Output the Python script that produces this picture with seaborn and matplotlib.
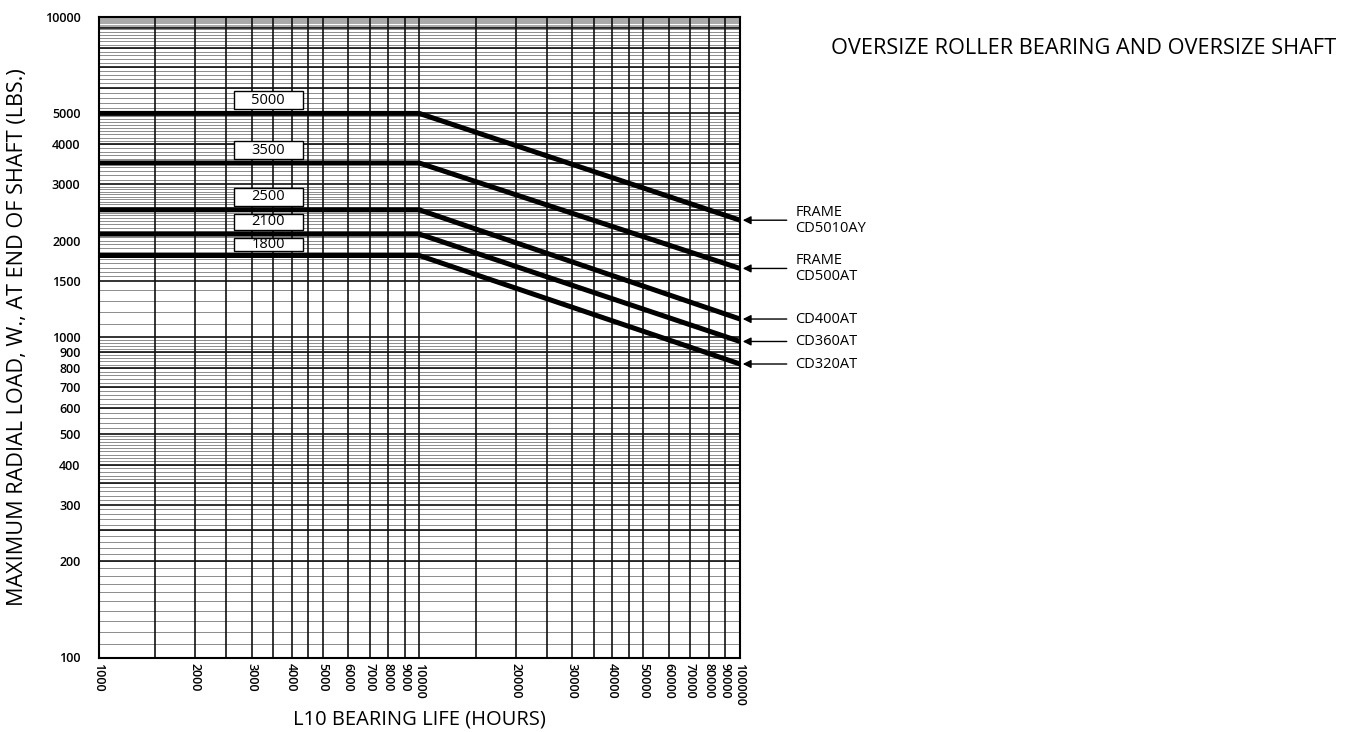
import numpy as np
import pandas as pd
import matplotlib
matplotlib.use("Agg")
import matplotlib.pyplot as plt
from matplotlib.patches import Rectangle
import seaborn as sns

# ---- bearing load curves -------------------------------------------------
frames = ["FRAME\nCD5010AY", "FRAME\nCD500AT", "CD400AT", "CD360AT", "CD320AT"]
load_flat = [5000, 3500, 2500, 2100, 1800]     # lbs, held constant up to the knee
load_end = [2320, 1640, 1140, 970, 825]        # lbs at 100000 h
hours_start = 1000
hours_knee = 10000
hours_end = 100000

# ---- axis ticks ------------------------------------------------------------
x_ticks = [1000, 2000, 3000, 4000, 5000, 6000, 7000, 8000, 9000, 10000,
           20000, 30000, 40000, 50000, 60000, 70000, 80000, 90000, 100000]
y_ticks = [100, 200, 300, 400, 500, 600, 700, 800, 900, 1000,
           1500, 2000, 3000, 4000, 5000, 10000]

# ---- chart-paper rulings ---------------------------------------------------
x_rulings = [1000, 1500, 2000, 2500, 3000, 3500, 4000, 4500, 5000, 6000, 7000,
             8000, 9000, 10000, 15000, 20000, 25000, 30000, 35000, 40000, 45000,
             50000, 60000, 70000, 80000, 90000]
y_rulings = [200, 250, 300, 350, 400, 500, 600, 700, 800, 900, 1000, 1500,
             1800, 2100, 2500, 3000, 3500, 4000, 5000, 6000, 7000, 8000, 9250]
# fine rulings: (start, stop, step)
y_fine_bands = [(100, 300, 10), (300, 500, 10), (500, 1000, 20),
                (1000, 1500, 100), (1500, 3000, 50), (3000, 5000, 100),
                (5000, 9250, 200)]
y_shaded_band = (9250, 10000, 75)

sns.set_theme(style="white")
plt.rcParams["font.family"] = ["Open Sans", "DejaVu Sans"]

W, H = 1354, 732
fig = plt.figure(figsize=(W / 100, H / 100), dpi=100)
left, right, top, bottom = 98.5, 740, 17, 657.5
ax = fig.add_axes([left / W, (H - bottom) / H, (right - left) / W, (bottom - top) / H])

ax.set_xscale("log")
ax.set_yscale("log")
ax.set_xlim(hours_start, hours_end)
ax.set_ylim(100, 10000)

# fine grey rulings
fine = np.concatenate([np.arange(a, b, s)[1:] for a, b, s in y_fine_bands])
for v in fine:
    ax.axhline(v, color="#8c8c8c", lw=0.7, zorder=1)
a, b, s = y_shaded_band
for v in np.arange(a, b, s)[1:]:
    ax.axhline(v, color="#9a9a9a", lw=0.6, zorder=1)
# heavy rulings
for v in y_rulings:
    ax.axhline(v, color="#111111", lw=1.2, zorder=2)
for v in x_rulings:
    ax.axvline(v, color="#111111", lw=1.2, zorder=2)

# load curves
rows = []
for name, flat, end in zip(frames, load_flat, load_end):
    rows += [(name, hours_start, flat), (name, hours_knee, flat), (name, hours_end, end)]
df = pd.DataFrame(rows, columns=["frame", "hours", "load"])
sns.lineplot(data=df, x="hours", y="load", units="frame", estimator=None,
             color="black", lw=3.6, ax=ax, zorder=3, legend=False)

# boxed load values sitting just above each flat segment
px_per_decade = (bottom - top) / 2.0
box_x0, box_x1 = 2640, 4330
box_xc = np.sqrt(box_x0 * box_x1)
sorted_loads = sorted(load_flat)
for v in load_flat:
    above = [u for u in sorted_loads if u > v]
    gap_px = px_per_decade * np.log10(above[0] / v) if above else 60
    lo_px, hi_px = 4.0, min(22.0, gap_px - 4.0)
    y0 = v * 10 ** (lo_px / px_per_decade)
    y1 = v * 10 ** (hi_px / px_per_decade)
    ax.add_patch(Rectangle((box_x0, y0), box_x1 - box_x0, y1 - y0,
                           facecolor="white", edgecolor="black", lw=1.0, zorder=4))
    ax.text(box_xc, np.sqrt(y0 * y1), f"{v}", ha="center", va="center",
            fontsize=10.5, color="black", zorder=5)

# frame call-outs at the right-hand end of each curve
for name, end in zip(frames, load_end):
    ax.annotate(name, xy=(hours_end, end), xycoords="data",
                xytext=(40, 0), textcoords="offset points",
                ha="left", va="center", fontsize=10.5,
                color="black", linespacing=1.1, annotation_clip=False,
                arrowprops=dict(arrowstyle="-|>", color="black", lw=1.0,
                                shrinkA=4, shrinkB=2, mutation_scale=12,
                                relpos=(0, 0.5)))

ax.set_xticks(x_ticks)
ax.set_xticklabels([str(t) for t in x_ticks], rotation=-90, fontsize=9,
                   fontweight="semibold")
ax.set_yticks(y_ticks)
ax.set_yticklabels([str(t) for t in y_ticks], fontsize=9, fontweight="semibold")
ax.minorticks_off()
ax.tick_params(axis="both", length=0, colors="black")
ax.tick_params(axis="x", pad=4)
ax.tick_params(axis="y", pad=13)

ax.set_xlabel("L10 BEARING LIFE (HOURS)", fontsize=14.5, color="black")
ax.xaxis.set_label_coords(0.5, -(720 - bottom) / (bottom - top))
ax.xaxis.label.set_verticalalignment("center")
ax.set_ylabel("MAXIMUM RADIAL LOAD, W., AT END OF SHAFT (LBS.)", fontsize=15.6,
              color="black")
ax.yaxis.set_label_coords(-(left - 18) / (right - left), 0.5)
ax.yaxis.label.set_verticalalignment("center")

for sp in ax.spines.values():
    sp.set_color("black")
    sp.set_linewidth(1.5)
    sp.set_zorder(6)

fig.text((830 + 1338) / 2 / W, 1 - 49 / H, "OVERSIZE ROLLER BEARING AND OVERSIZE SHAFT",
         ha="center", va="center", fontsize=15.7, color="black")

fig.savefig("out.png", dpi=100, facecolor="white")
